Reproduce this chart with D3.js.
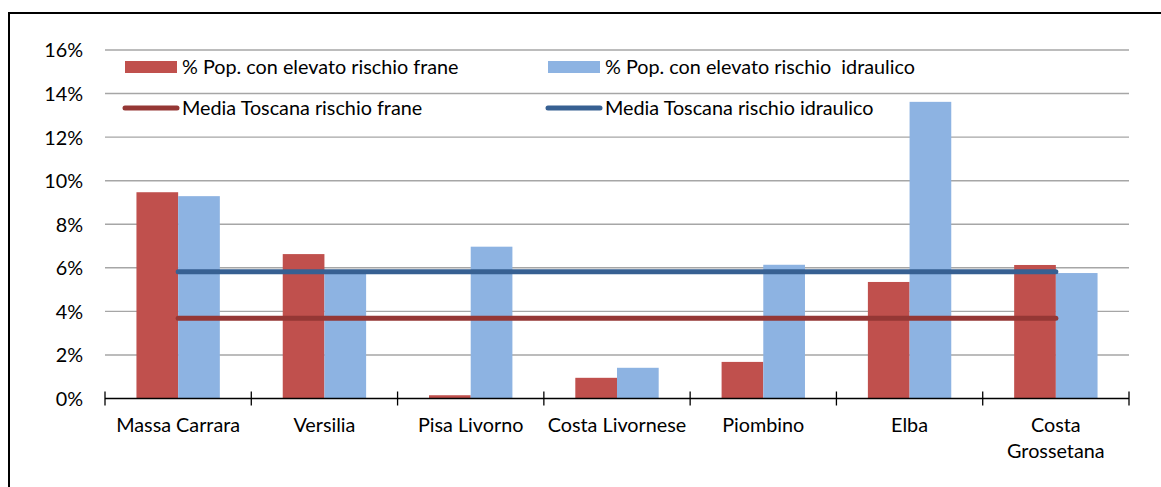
<!DOCTYPE html>
<html>
<head>
<meta charset="utf-8">
<script src="https://cdn.jsdelivr.net/npm/d3@7"></script>
<style>
  html, body { margin: 0; padding: 0; background: #fff; }
  svg { display: block; font-family: Lato, "Open Sans", sans-serif; }
  text { white-space: pre; }
</style>
</head>
<body>
<svg id="chart" width="1161" height="487"></svg>
<script>
// Popolazione esposta a rischio frane e idraulico per ambito costiero
const categories = ["Massa Carrara", "Versilia", "Pisa Livorno", "Costa Livornese", "Piombino", "Elba", "Costa Grossetana"];
const frane = [9.47, 6.63, 0.15, 0.95, 1.68, 5.35, 6.13];
const idraulico = [9.29, 5.9, 6.97, 1.41, 6.14, 13.62, 5.76];
const mediaFrane = 3.68;
const mediaIdraulico = 5.82;
const yTicks = [0, 2, 4, 6, 8, 10, 12, 14, 16];
const legendLabels = [
  "% Pop. con elevato rischio frane",
  "% Pop. con elevato rischio  idraulico",
  "Media Toscana rischio frane",
  "Media Toscana rischio idraulico"
];

const colors = {
  frane: "#C0504D",
  idraulico: "#8DB3E2",
  mediaFrane: "#953735",
  mediaIdraulico: "#376092",
  grid: "#A6A6A6"
};

const svg = d3.select("#chart");
const fontSize = 19.8;

// outer frame
svg.append("rect")
  .attr("x", 9).attr("y", 13)
  .attr("width", 1300).attr("height", 600)
  .attr("fill", "none").attr("stroke", "#000").attr("stroke-width", 2);

const plot = { left: 105, right: 1129, top: 50, bottom: 398.5 };

const x = d3.scaleBand().domain(categories).range([plot.left, plot.right]).padding(0);
const y = d3.scaleLinear().domain([0, 16]).range([plot.bottom, plot.top]);
const barW = x.bandwidth() * 0.285;

// gridlines
svg.append("g")
  .selectAll("line")
  .data(yTicks.filter(d => d > 0))
  .join("line")
  .attr("x1", plot.left).attr("x2", plot.right)
  .attr("y1", d => y(d)).attr("y2", d => y(d))
  .attr("stroke", colors.grid).attr("stroke-width", 1.4);

// y axis labels
const yAxis = d3.axisLeft(y).tickValues(yTicks).tickSize(0).tickPadding(0).tickFormat(d => d + "%");
svg.append("g")
  .attr("transform", `translate(${plot.left - 22},0)`)
  .call(yAxis)
  .call(g => g.select(".domain").remove())
  .call(g => g.selectAll("text")
    .attr("font-size", fontSize).attr("font-family", "Lato").attr("fill", "#000")
    .attr("dy", "0.35em"));

// bars
const groups = svg.append("g")
  .selectAll("g")
  .data(categories)
  .join("g")
  .attr("transform", d => `translate(${x(d) + (x.bandwidth() - 2 * barW) / 2},0)`);

groups.append("rect")
  .attr("x", 0)
  .attr("y", (d, i) => y(frane[i]))
  .attr("width", barW)
  .attr("height", (d, i) => y(0) - y(frane[i]))
  .attr("fill", colors.frane);

groups.append("rect")
  .attr("x", barW)
  .attr("y", (d, i) => y(idraulico[i]))
  .attr("width", barW)
  .attr("height", (d, i) => y(0) - y(idraulico[i]))
  .attr("fill", colors.idraulico);

// average lines across category centres
const first = categories[0], last = categories[categories.length - 1];
const cx = c => x(c) + x.bandwidth() / 2;
[[mediaIdraulico, colors.mediaIdraulico], [mediaFrane, colors.mediaFrane]].forEach(([v, c]) => {
  svg.append("line")
    .attr("x1", cx(first)).attr("x2", cx(last))
    .attr("y1", y(v)).attr("y2", y(v))
    .attr("stroke", c).attr("stroke-width", 5).attr("stroke-linecap", "round");
});

// x axis with crossing tick marks
const xAxisG = svg.append("g");
xAxisG.append("line")
  .attr("x1", plot.left).attr("x2", plot.right)
  .attr("y1", plot.bottom).attr("y2", plot.bottom)
  .attr("stroke", "#000").attr("stroke-width", 1.3);
const tickPos = categories.map(c => x(c)).concat([plot.right]);
xAxisG.selectAll("line.tick")
  .data(tickPos)
  .join("line")
  .attr("class", "tick")
  .attr("x1", d => d).attr("x2", d => d)
  .attr("y1", plot.bottom - 7).attr("y2", plot.bottom + 7)
  .attr("stroke", "#000").attr("stroke-width", 1.3);

// category labels, wrapped when wider than the band
const labels = xAxisG.selectAll("text.cat")
  .data(categories)
  .join("text")
  .attr("class", "cat")
  .attr("x", d => cx(d))
  .attr("y", 432)
  .attr("text-anchor", "middle")
  .attr("font-size", fontSize)
  .attr("fill", "#000")
  .text(d => d);
labels.each(function (d) {
  const t = d3.select(this);
  if (this.getComputedTextLength() > x.bandwidth() - 2) {
    const words = d.split(" ");
    t.text(null);
    words.forEach((w, i) => {
      t.append("tspan").attr("x", cx(d)).attr("dy", i === 0 ? 0 : 26).text(w);
    });
  }
});

// legend
const legend = svg.append("g").attr("font-size", fontSize).attr("fill", "#000");
const legendItems = [
  { label: legendLabels[0], type: "rect", color: colors.frane, x: 125, y: 67 },
  { label: legendLabels[1], type: "rect", color: colors.idraulico, x: 548, y: 67 },
  { label: legendLabels[2], type: "line", color: colors.mediaFrane, x: 125, y: 108 },
  { label: legendLabels[3], type: "line", color: colors.mediaIdraulico, x: 548, y: 108 }
];
legendItems.forEach(it => {
  if (it.type === "rect") {
    legend.append("rect")
      .attr("x", it.x).attr("y", it.y - 6)
      .attr("width", 52).attr("height", 12)
      .attr("fill", it.color);
  } else {
    legend.append("line")
      .attr("x1", it.x).attr("x2", it.x + 52)
      .attr("y1", it.y).attr("y2", it.y)
      .attr("stroke", it.color).attr("stroke-width", 5).attr("stroke-linecap", "round");
  }
  legend.append("text")
    .attr("x", it.x + 57).attr("y", it.y)
    .attr("dy", "0.35em")
    .text(it.label);
});
</script>
</body>
</html>
